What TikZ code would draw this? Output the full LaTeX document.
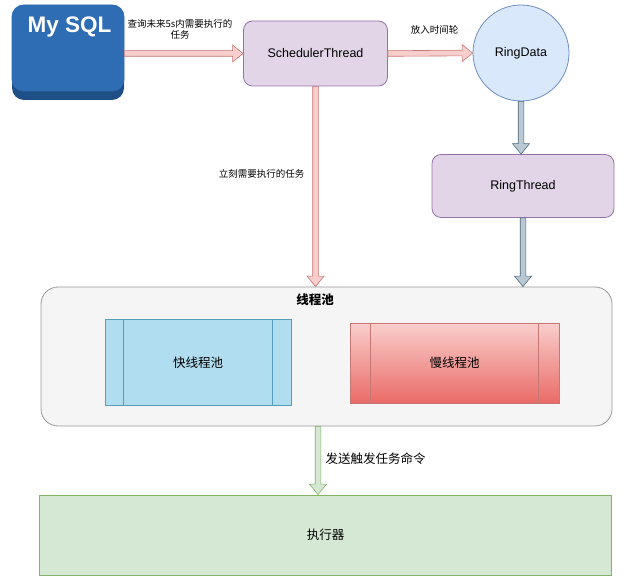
\documentclass[tikz,border=0pt]{standalone}
\usepackage{fontspec}
\setmainfont{Liberation Sans}
\newfontfamily\cjk{Noto Sans CJK SC}
\usetikzlibrary{calc,positioning,shapes.geometric}
\definecolor{dblight}{HTML}{2E6DB4}
\definecolor{dbdark}{HTML}{1F4F87}
\definecolor{pinkfill}{HTML}{F8CECC}
\definecolor{pinkline}{HTML}{B85450}
\definecolor{violetfill}{HTML}{E1D5E7}
\definecolor{violetline}{HTML}{9673A6}
\definecolor{ringfill}{HTML}{DAE8FC}
\definecolor{ringline}{HTML}{6C8EBF}
\definecolor{grayfill}{HTML}{BAC8D3}
\definecolor{grayline}{HTML}{23445D}
\definecolor{poolfill}{HTML}{F5F5F5}
\definecolor{poolline}{HTML}{999999}
\definecolor{fastfill}{HTML}{B1DDF0}
\definecolor{fastline}{HTML}{10739E}
\definecolor{slowtop}{HTML}{F8CECC}
\definecolor{slowbot}{HTML}{EA6B66}
\definecolor{slowline}{HTML}{B85450}
\definecolor{greenfill}{HTML}{D5E8D4}
\definecolor{greenline}{HTML}{82B366}

\begin{document}
\begin{tikzpicture}[x=1pt,y=-1pt,line width=0.8pt,
  font=\fontsize{12.5}{15}\selectfont,
  lbl/.style={font=\cjk\fontsize{12.5}{15}\selectfont},
  smalllbl/.style={font=\cjk\fontsize{9.5}{11.5}\selectfont,align=center},
  roundbox/.style={rectangle,rounded corners=9pt,draw=violetline,fill=violetfill,inner sep=0pt},
  procbox/.style={rectangle,inner sep=0pt,font=\cjk\fontsize{12.5}{15}\selectfont},
  blockarrow/.style={line width=0.6pt,to path={let \p1=(\tikztostart), \p2=(\tikztotarget),
      \n1={atan2(\y2-\y1,\x2-\x1)}, \n2={veclen(\x2-\x1,\y2-\y1)} in
      ($(\p1)+({\n1+90}:2.8pt)$) -- ($(\p1)+(\n1:{\n2-10.5pt})+({\n1+90}:2.8pt)$)
      -- ($(\p1)+(\n1:{\n2-10.5pt})+({\n1+90}:8.5pt)$) -- (\p2)
      -- ($(\p1)+(\n1:{\n2-10.5pt})+({\n1-90}:8.5pt)$)
      -- ($(\p1)+(\n1:{\n2-10.5pt})+({\n1-90}:2.8pt)$)
      -- ($(\p1)+({\n1-90}:2.8pt)$) -- cycle}},
  pinkarrow/.style={blockarrow,draw=pinkline!80,fill=pinkfill},
  grayarrow/.style={blockarrow,draw=grayline!80,fill=grayfill},
  greenarrow/.style={blockarrow,draw=greenline,fill=greenfill}]
\useasboundingbox (0,0) rectangle (632,588);

% database
\node[rectangle,rounded corners=12pt,fill=dbdark,inner sep=0pt,minimum width=112pt,minimum height=95pt] (mysql) at (68,52.5) {};
\fill[dblight,rounded corners=12pt] (mysql.north west) rectangle ($(mysql.south east)+(0,-9)$);
\node[anchor=base,text=white,font=\fontsize{22.5}{26}\selectfont\bfseries] (mysqltitle) at (69.5,32.5) {My SQL};

% threads
\node[roundbox,minimum width=144pt,minimum height=65pt] (sched) at (315.5,53.5) {SchedulerThread};
\node[circle,draw=ringline,fill=ringfill,minimum size=96pt,inner sep=0pt] (ring) at (521,53) {RingData};
\node[roundbox,minimum width=182pt,minimum height=63pt] (rthread) at (523,186) {RingThread};

% pool
\node[rectangle,rounded corners=17pt,draw=poolline,fill=poolfill,minimum width=571pt,minimum height=139pt] (pool) at (326.5,356.5) {};
\node[font=\cjk\fontsize{12.5}{15}\selectfont\bfseries] (pooltitle) at (315,299.5) {线程池};
\node[procbox,draw=fastline!70,fill=fastfill,minimum width=186pt,minimum height=86pt] (fast) at (198,362.5) {快线程池};
\node[procbox,draw=slowline!80,top color=slowtop,bottom color=slowbot,minimum width=209pt,minimum height=80pt] (slow) at (454.5,363) {慢线程池};
\foreach \n/\c in {fast/fastline!70,slow/slowline!80}
  \draw[\c,line width=0.6pt] ($(\n.north west)!0.1!(\n.north east)$) -- ($(\n.south west)!0.1!(\n.south east)$)
            ($(\n.north east)!0.1!(\n.north west)$) -- ($(\n.south east)!0.1!(\n.south west)$);

% executor
\node[procbox,draw=greenline,fill=greenfill,minimum width=572pt,minimum height=80pt] (exec) at (325.5,535) {执行器};

% arrows
\draw[pinkarrow] (mysql.east |- sched.west) to (sched.west);
\draw[pinkarrow] (sched.east) to (ring.west);
\draw[pinkarrow] (sched.south) to (sched.south |- pool.north);
\draw[grayarrow] (ring.south) to (ring.south |- rthread.north);
\draw[grayarrow] (rthread.south) to (rthread.south |- pool.north);
\draw[greenarrow] ([xshift=-8.5pt]pool.south) to ([xshift=-8.5pt]pool.south |- exec.north);

% labels
\node[smalllbl] (lblquery) at (180,29.5) {查询未来5s内需要执行的\\任务};
\node[smalllbl] (lblring) at (434.5,29.5) {放入时间轮};
\node[smalllbl,anchor=east] (lblnow) at (308,174) {立刻需要执行的任务};
\node[lbl,anchor=west] (lblsend) at (322,459) {发送触发任务命令};
\end{tikzpicture}
\end{document}
